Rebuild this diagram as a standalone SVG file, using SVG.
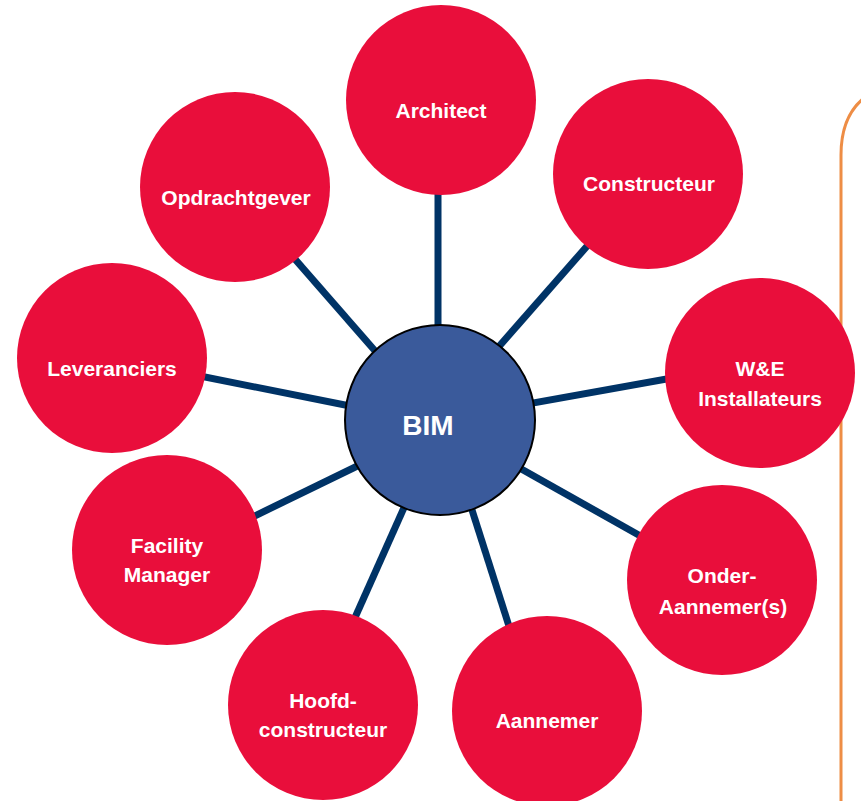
<svg xmlns="http://www.w3.org/2000/svg" width="861" height="801" viewBox="0 0 861 801">
<style>
.node{fill:#E90E3B;}
.lbl{fill:#FFFFFF;font-family:"Liberation Sans",Arial,sans-serif;font-weight:bold;font-size:21px;text-anchor:middle;}
.hub{fill:#3A5A9B;stroke:#000000;stroke-width:2;}
.hubl{fill:#FFFFFF;font-family:"Liberation Sans",Arial,sans-serif;font-weight:bold;font-size:28px;text-anchor:middle;}
.conn line{stroke:#003366;stroke-width:7;}
</style>
<rect width="861" height="801" fill="#FFFFFF"/>
<path d="M841,801 V155 C841,128 849,110 864,98" fill="none" stroke="#EE8D45" stroke-width="3"/>
<g id="connectors" class="conn">
<line x1="438" y1="150" x2="438" y2="400"/>
<line x1="610" y1="220" x2="480" y2="368"/>
<line x1="700" y1="373" x2="500" y2="409"/>
<line x1="500" y1="457" x2="660" y2="547"/>
<line x1="465" y1="488" x2="515" y2="645"/>
<line x1="415" y1="483" x2="345" y2="640"/>
<line x1="380" y1="455" x2="230" y2="528"/>
<line x1="180" y1="372" x2="370" y2="410"/>
<line x1="280" y1="242" x2="390" y2="368"/>
</g>
<g id="architect"><circle class="node" cx="441" cy="100" r="95"/><text class="lbl" x="441" y="118">Architect</text></g>
<g id="opdrachtgever"><circle class="node" cx="235" cy="187" r="95"/><text class="lbl" x="236" y="205">Opdrachtgever</text></g>
<g id="constructeur"><circle class="node" cx="648" cy="174" r="95"/><text class="lbl" x="649" y="191">Constructeur</text></g>
<g id="we-installateurs"><circle class="node" cx="760" cy="373" r="95"/><text class="lbl" x="760" y="376">W&amp;E</text><text class="lbl" x="760" y="406">Installateurs</text></g>
<g id="leveranciers"><circle class="node" cx="112" cy="358" r="95"/><text class="lbl" x="112" y="376">Leveranciers</text></g>
<g id="facility-manager"><circle class="node" cx="167" cy="550" r="95"/><text class="lbl" x="167" y="553">Facility</text><text class="lbl" x="167" y="582">Manager</text></g>
<g id="hoofdconstructeur"><circle class="node" cx="323" cy="705" r="95"/><text class="lbl" x="323" y="708">Hoofd-</text><text class="lbl" x="323" y="737">constructeur</text></g>
<g id="aannemer"><circle class="node" cx="547" cy="711" r="95"/><text class="lbl" x="547" y="728">Aannemer</text></g>
<g id="onder-aannemers"><circle class="node" cx="722" cy="580" r="95"/><text class="lbl" x="722" y="583">Onder-</text><text class="lbl" x="723" y="614">Aannemer(s)</text></g>
<g id="bim"><circle class="hub" cx="440" cy="420" r="95"/><text class="hubl" x="428" y="435">BIM</text></g>
</svg>
